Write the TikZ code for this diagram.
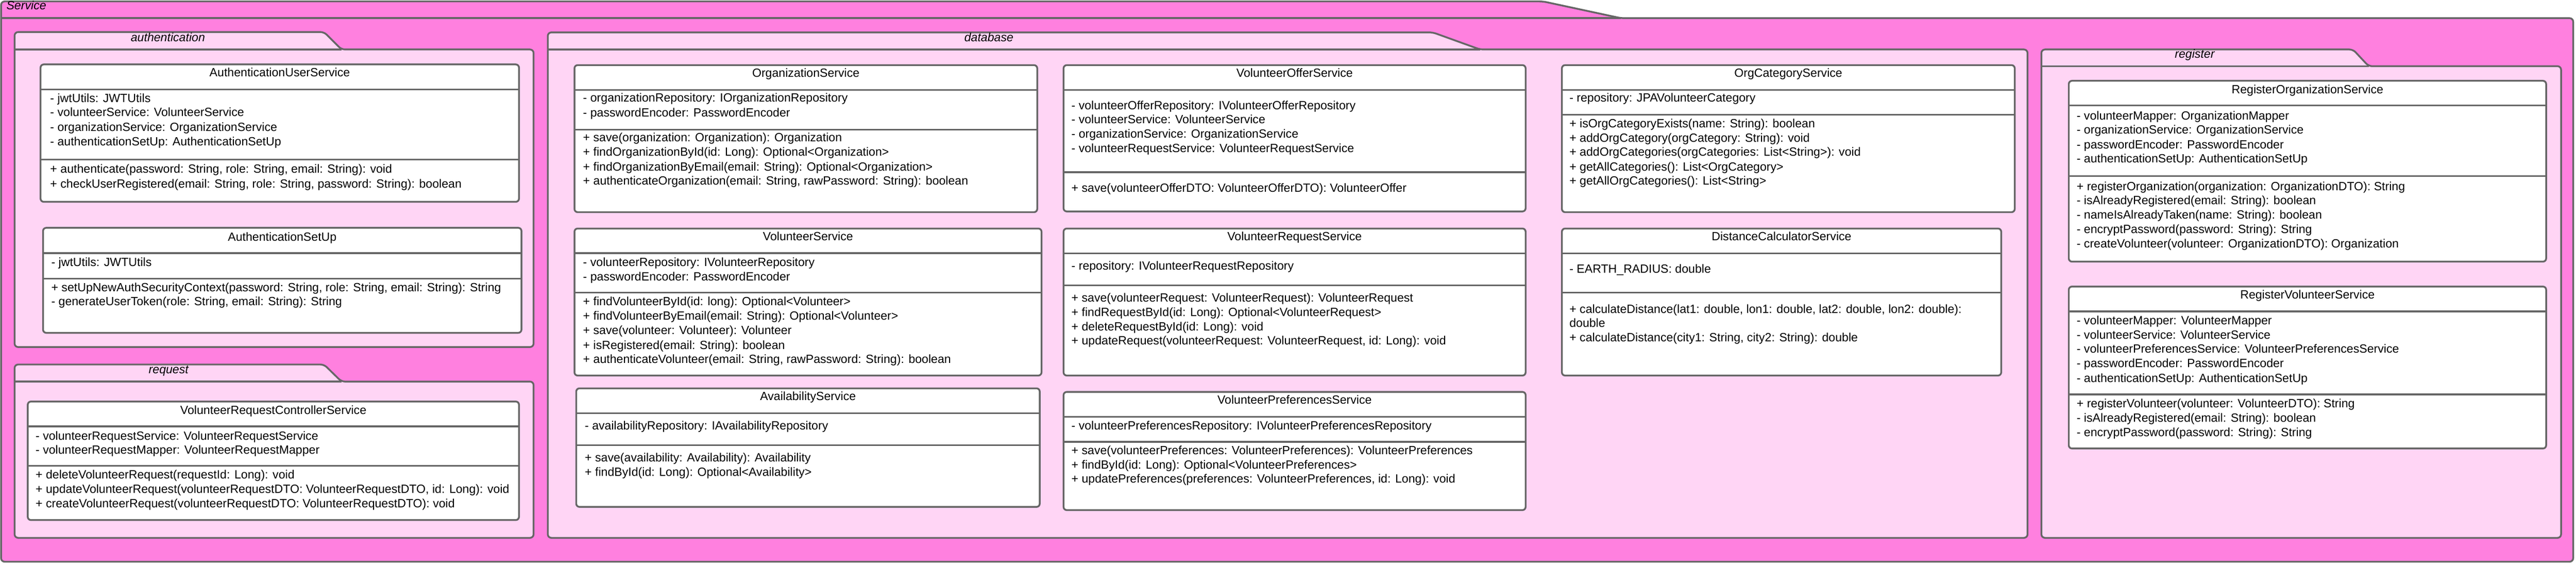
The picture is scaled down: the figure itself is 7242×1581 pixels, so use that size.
\documentclass[tikz,border=0pt]{standalone}
\usepackage{fontspec}
\setmainfont{Liberation Sans}
\definecolor{strokegray}{HTML}{666666}
\definecolor{outerpink}{HTML}{FF80DF}
\definecolor{innerpink}{HTML}{FFD5F5}
\newcommand\umlfont{\fontsize{33.5}{40.2}\selectfont}
\tikzset{
  pkgshape/.style={draw=strokegray, line width=5pt, fill=#1, rounded corners=10pt, line join=round},
  sepline/.style={draw=strokegray, line width=5pt},
  clsbox/.style={draw=strokegray, line width=5pt, fill=white, rounded corners=9pt, inner sep=0pt, outer sep=0pt},
  member/.style={anchor=west, inner sep=0pt, text height=0.716em, text depth=0pt, font=\umlfont},
  ctitle/.style={anchor=center, inner sep=0pt, text height=0.716em, text depth=0pt, font=\umlfont},
  pkglabel/.style={anchor=center, inner sep=0pt, text height=0.716em, text depth=0pt, font=\umlfont\itshape},
}
% #1 name, #2 x1, #3 x2, #4 ytop, #5 yhead, #6 ysep, #7 ybottom, #8 title y, #9 title
\newcommand\umlclass[9]{%
  \node[clsbox, minimum width={#3-#2}, minimum height={#7-#4}] (#1) at ({(#2+#3)/2},{(#4+#7)/2}) {};
  \draw[sepline] (#2,#5) -- (#3,#5);
  \draw[sepline] (#2,#6) -- (#3,#6);
  \node[ctitle] (#1-title) at ({(#2+#3)/2},#8) {#9};
}
\newcommand\mem[4]{\node[member] (#1) at (#2,#3) {#4};}
\begin{document}
\begin{tikzpicture}[x=1pt,y=-1pt]
\useasboundingbox (0,0) rectangle (7242,1581);

% ---------- Service package ----------
\draw[pkgshape=outerpink] (3,1578) -- (3,4) -- (4338,4) -- (4557,51) -- (7234,51) -- (7234,1578) -- cycle;
\draw[sepline] (3,51) -- (4557,51);
\node[member, font=\umlfont\itshape] (service-label) at (18,23) {Service};

% ---------- authentication ----------
\draw[pkgshape=innerpink] (41,975) -- (41,90) -- (911,90) -- (960,139) -- (1500,139) -- (1500,975) -- cycle;
\draw[sepline] (41,139) -- (960,139);
\node[pkglabel] (auth-label) at (472,113) {authentication};

% ---------- request ----------
\draw[pkgshape=innerpink] (41,1511) -- (41,1024) -- (911,1024) -- (960,1072) -- (1500,1072) -- (1500,1511) -- cycle;
\draw[sepline] (41,1072) -- (960,1072);
\node[pkglabel] (req-label) at (474,1046) {request};

% ---------- database ----------
\draw[pkgshape=innerpink] (1540,1511) -- (1540,91) -- (4028,91) -- (4161,139) -- (5700,139) -- (5700,1511) -- cycle;
\draw[sepline] (1540,139) -- (4161,139);
\node[pkglabel] (db-label) at (2780,113) {database};

% ---------- register ----------
\draw[pkgshape=innerpink] (5739,1511) -- (5739,139) -- (6615,139) -- (6659,186) -- (7200,186) -- (7200,1511) -- cycle;
\draw[sepline] (5739,186) -- (6659,186);
\node[pkglabel] (reg-label) at (6170,160) {register};

% ---------- AuthenticationUserService ----------
\umlclass{aus}{114}{1459}{181}{251}{448}{567}{212}{AuthenticationUserService}
\mem{aus-a1}{141}{284}{- jwtUtils: JWTUtils}
\mem{aus-a2}{141}{323}{- volunteerService: VolunteerService}
\mem{aus-a3}{141}{365}{- organizationService: OrganizationService}
\mem{aus-a4}{141}{405}{- authenticationSetUp: AuthenticationSetUp}
\mem{aus-m1}{141}{483}{+ authenticate(password: String, role: String, email: String): void}
\mem{aus-m2}{141}{524}{+ checkUserRegistered(email: String, role: String, password: String): boolean}

% ---------- AuthenticationSetUp ----------
\umlclass{asu}{121}{1466}{640}{711}{783}{935}{673}{AuthenticationSetUp}
\mem{asu-a1}{144}{745}{- jwtUtils: JWTUtils}
\mem{asu-m1}{144}{815}{+ setUpNewAuthSecurityContext(password: String, role: String, email: String): String}
\mem{asu-m2}{144}{855}{- generateUserToken(role: String, email: String): String}

% ---------- VolunteerRequestControllerService ----------
\umlclass{vrcs}{78}{1459}{1128}{1198}{1309}{1461}{1160}{VolunteerRequestControllerService}
\mem{vrcs-a1}{100}{1232}{- volunteerRequestService: VolunteerRequestService}
\mem{vrcs-a2}{100}{1272}{- volunteerRequestMapper: VolunteerRequestMapper}
\mem{vrcs-m1}{100}{1341}{+ deleteVolunteerRequest(requestId: Long): void}
\mem{vrcs-m2}{100}{1382}{+ updateVolunteerRequest(volunteerRequestDTO: VolunteerRequestDTO, id: Long): void}
\mem{vrcs-m3}{100}{1422}{+ createVolunteerRequest(volunteerRequestDTO: VolunteerRequestDTO): void}

% ---------- OrganizationService ----------
\umlclass{orgs}{1615}{2916}{183}{253}{364}{596}{213}{OrganizationService}
\mem{orgs-a1}{1639}{283}{- organizationRepository: IOrganizationRepository}
\mem{orgs-a2}{1639}{324}{- passwordEncoder: PasswordEncoder}
\mem{orgs-m1}{1639}{394}{+ save(organization: Organization): Organization}
\mem{orgs-m2}{1639}{435}{+ findOrganizationById(id: Long): Optional<Organization>}
\mem{orgs-m3}{1639}{476}{+ findOrganizationByEmail(email: String): Optional<Organization>}
\mem{orgs-m4}{1639}{516}{+ authenticateOrganization(email: String, rawPassword: String): boolean}

% ---------- VolunteerOfferService ----------
\umlclass{vos}{2990}{4289}{183}{253}{484}{594}{213}{VolunteerOfferService}
\mem{vos-a1}{3012}{304}{- volunteerOfferRepository: IVolunteerOfferRepository}
\mem{vos-a2}{3012}{343}{- volunteerService: VolunteerService}
\mem{vos-a3}{3012}{384}{- organizationService: OrganizationService}
\mem{vos-a4}{3012}{424}{- volunteerRequestService: VolunteerRequestService}
\mem{vos-m1}{3012}{536}{+ save(volunteerOfferDTO: VolunteerOfferDTO): VolunteerOffer}

% ---------- OrgCategoryService ----------
\umlclass{ocs}{4391}{5664}{183}{253}{322}{596}{213}{OrgCategoryService}
\mem{ocs-a1}{4412}{283}{- repository: JPAVolunteerCategory}
\mem{ocs-m1}{4412}{355}{+ isOrgCategoryExists(name: String): boolean}
\mem{ocs-m2}{4412}{395}{+ addOrgCategory(orgCategory: String): void}
\mem{ocs-m3}{4412}{435}{+ addOrgCategories(orgCategories: List<String>): void}
\mem{ocs-m4}{4412}{476}{+ getAllCategories(): List<OrgCategory>}
\mem{ocs-m5}{4412}{516}{+ getAllOrgCategories(): List<String>}

% ---------- VolunteerService ----------
\umlclass{vs}{1615}{2928}{642}{711}{822}{1055}{672}{VolunteerService}
\mem{vs-a1}{1639}{745}{- volunteerRepository: IVolunteerRepository}
\mem{vs-a2}{1639}{785}{- passwordEncoder: PasswordEncoder}
\mem{vs-m1}{1639}{854}{+ findVolunteerById(id: long): Optional<Volunteer>}
\mem{vs-m2}{1639}{895}{+ findVolunteerByEmail(email: String): Optional<Volunteer>}
\mem{vs-m3}{1639}{936}{+ save(volunteer: Volunteer): Volunteer}
\mem{vs-m4}{1639}{977}{+ isRegistered(email: String): boolean}
\mem{vs-m5}{1639}{1017}{+ authenticateVolunteer(email: String, rawPassword: String): boolean}

% ---------- VolunteerRequestService ----------
\umlclass{vrs}{2990}{4289}{642}{712}{802}{1055}{672}{VolunteerRequestService}
\mem{vrs-a1}{3012}{754}{- repository: IVolunteerRequestRepository}
\mem{vrs-m1}{3012}{844}{+ save(volunteerRequest: VolunteerRequest): VolunteerRequest}
\mem{vrs-m2}{3012}{885}{+ findRequestById(id: Long): Optional<VolunteerRequest>}
\mem{vrs-m3}{3012}{925}{+ deleteRequestById(id: Long): void}
\mem{vrs-m4}{3012}{965}{+ updateRequest(volunteerRequest: VolunteerRequest, id: Long): void}

% ---------- DistanceCalculatorService ----------
\umlclass{dcs}{4391}{5626}{642}{712}{822}{1055}{672}{DistanceCalculatorService}
\mem{dcs-a1}{4412}{764}{- EARTH\_RADIUS: double}
\mem{dcs-m1}{4412}{876}{+ calculateDistance(lat1: double, lon1: double, lat2: double, lon2: double):}
\mem{dcs-m1b}{4412}{915}{double}
\mem{dcs-m2}{4412}{956}{+ calculateDistance(city1: String, city2: String): double}

% ---------- AvailabilityService ----------
\umlclass{avs}{1620}{2923}{1091}{1161}{1251}{1424}{1121}{AvailabilityService}
\mem{avs-a1}{1644}{1203}{- availabilityRepository: IAvailabilityRepository}
\mem{avs-m1}{1644}{1293}{+ save(availability: Availability): Availability}
\mem{avs-m2}{1644}{1334}{+ findById(id: Long): Optional<Availability>}

% ---------- VolunteerPreferencesService ----------
\umlclass{vps}{2990}{4289}{1101}{1171}{1241}{1433}{1131}{VolunteerPreferencesService}
\mem{vps-a1}{3012}{1203}{- volunteerPreferencesRepository: IVolunteerPreferencesRepository}
\mem{vps-m1}{3012}{1273}{+ save(volunteerPreferences: VolunteerPreferences): VolunteerPreferences}
\mem{vps-m2}{3012}{1314}{+ findById(id: Long): Optional<VolunteerPreferences>}
\mem{vps-m3}{3012}{1353}{+ updatePreferences(preferences: VolunteerPreferences, id: Long): void}

% ---------- RegisterOrganizationService ----------
\umlclass{ros}{5816}{7158}{227}{296}{495}{735}{259}{RegisterOrganizationService}
\mem{ros-a1}{5838}{333}{- volunteerMapper: OrganizationMapper}
\mem{ros-a2}{5838}{373}{- organizationService: OrganizationService}
\mem{ros-a3}{5838}{414}{- passwordEncoder: PasswordEncoder}
\mem{ros-a4}{5838}{454}{- authenticationSetUp: AuthenticationSetUp}
\mem{ros-m1}{5838}{531}{+ registerOrganization(organization: OrganizationDTO): String}
\mem{ros-m2}{5838}{570}{- isAlreadyRegistered(email: String): boolean}
\mem{ros-m3}{5838}{611}{- nameIsAlreadyTaken(name: String): boolean}
\mem{ros-m4}{5838}{652}{- encryptPassword(password: String): String}
\mem{ros-m5}{5838}{693}{- createVolunteer(volunteer: OrganizationDTO): Organization}

% ---------- RegisterVolunteerService ----------
\umlclass{rvs}{5816}{7158}{805}{875}{1108}{1260}{836}{RegisterVolunteerService}
\mem{rvs-a1}{5838}{908}{- volunteerMapper: VolunteerMapper}
\mem{rvs-a2}{5838}{949}{- volunteerService: VolunteerService}
\mem{rvs-a3}{5838}{988}{- volunteerPreferencesService: VolunteerPreferencesService}
\mem{rvs-a4}{5838}{1029}{- passwordEncoder: PasswordEncoder}
\mem{rvs-a5}{5838}{1070}{- authenticationSetUp: AuthenticationSetUp}
\mem{rvs-m1}{5838}{1142}{+ registerVolunteer(volunteer: VolunteerDTO): String}
\mem{rvs-m2}{5838}{1182}{- isAlreadyRegistered(email: String): boolean}
\mem{rvs-m3}{5838}{1222}{- encryptPassword(password: String): String}
\end{tikzpicture}
\end{document}
